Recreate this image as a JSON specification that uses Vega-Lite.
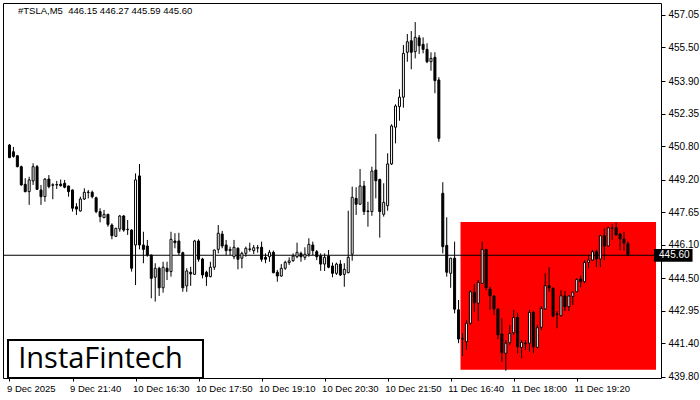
{
  "$schema": "https://vega.github.io/schema/vega-lite/v6.json",
  "width": 658,
  "height": 375,
  "autosize": "none",
  "padding": {"left": 3, "top": 3, "right": 39, "bottom": 22},
  "background": "white",
  "title": {"text": "#TSLA,M5\u00a0 446.15 446.27 445.59 445.60", "anchor": "start", "frame": "group", "offset": -20, "dx": 15, "fontSize": 9.5, "font": "Liberation Sans", "fontWeight": "normal", "color": "black", "baseline": "alphabetic"},
  "config": {
    "view": {"stroke": "black", "strokeWidth": 1},
    "axis": {"grid": false, "domain": false, "labelFont": "Liberation Sans", "labelColor": "black", "tickColor": "black", "labelOverlap": false, "labelFlush": false},
    "axisY": {"labelOverlap": false},
    "axisRight": {"labelOverlap": false}
  },
  "data": {"values": [
{"i":0,"o":450.85,"h":450.90,"l":450.23,"c":450.25},
{"i":1,"o":450.53,"h":450.76,"l":450.25,"c":450.31},
{"i":2,"o":450.34,"h":450.38,"l":449.79,"c":449.82},
{"i":3,"o":449.82,"h":449.87,"l":448.91,"c":448.95},
{"i":4,"o":448.98,"h":449.27,"l":448.60,"c":448.63},
{"i":5,"o":448.63,"h":449.34,"l":448.00,"c":449.19},
{"i":6,"o":449.14,"h":449.98,"l":448.95,"c":449.82},
{"i":7,"o":449.82,"h":449.90,"l":448.71,"c":448.74},
{"i":8,"o":448.71,"h":448.95,"l":448.00,"c":448.39},
{"i":9,"o":448.39,"h":449.27,"l":448.15,"c":449.23},
{"i":10,"o":449.23,"h":449.42,"l":448.79,"c":448.87},
{"i":11,"o":448.93,"h":449.03,"l":448.27,"c":448.96},
{"i":12,"o":448.95,"h":449.14,"l":448.76,"c":448.97},
{"i":13,"o":448.99,"h":449.21,"l":448.87,"c":448.91},
{"i":14,"o":449.03,"h":449.19,"l":448.79,"c":448.84},
{"i":15,"o":448.90,"h":448.92,"l":448.39,"c":448.63},
{"i":16,"o":448.71,"h":448.73,"l":447.68,"c":447.84},
{"i":17,"o":447.91,"h":448.08,"l":447.52,"c":447.80},
{"i":18,"o":447.71,"h":448.39,"l":447.68,"c":448.28},
{"i":19,"o":448.28,"h":448.79,"l":448.23,"c":448.60},
{"i":20,"o":448.59,"h":448.71,"l":448.31,"c":448.61},
{"i":21,"o":448.60,"h":448.68,"l":448.31,"c":448.39},
{"i":22,"o":448.34,"h":448.39,"l":447.60,"c":447.68},
{"i":23,"o":447.68,"h":447.84,"l":447.17,"c":447.44},
{"i":24,"o":447.39,"h":447.76,"l":447.37,"c":447.55},
{"i":25,"o":447.55,"h":447.57,"l":446.96,"c":447.07},
{"i":26,"o":447.04,"h":447.12,"l":446.36,"c":446.53},
{"i":27,"o":446.50,"h":446.91,"l":446.48,"c":446.88},
{"i":28,"o":446.85,"h":447.52,"l":446.72,"c":447.47},
{"i":29,"o":447.47,"h":447.52,"l":446.72,"c":446.80},
{"i":30,"o":446.82,"h":447.28,"l":446.57,"c":446.84},
{"i":31,"o":446.80,"h":446.84,"l":444.82,"c":444.98},
{"i":32,"o":446.09,"h":449.50,"l":444.18,"c":449.19},
{"i":33,"o":449.38,"h":449.95,"l":445.88,"c":446.09},
{"i":34,"o":446.09,"h":446.72,"l":445.22,"c":445.88},
{"i":35,"o":446.04,"h":446.33,"l":445.53,"c":445.61},
{"i":36,"o":445.61,"h":445.63,"l":443.55,"c":444.50},
{"i":37,"o":444.55,"h":445.22,"l":443.39,"c":444.98},
{"i":38,"o":444.98,"h":445.05,"l":443.66,"c":444.05},
{"i":39,"o":444.05,"h":445.29,"l":443.82,"c":445.03},
{"i":40,"o":444.98,"h":445.29,"l":444.42,"c":444.82},
{"i":41,"o":444.82,"h":446.72,"l":444.58,"c":446.36},
{"i":42,"o":446.28,"h":446.65,"l":445.93,"c":446.20},
{"i":43,"o":446.28,"h":446.67,"l":445.61,"c":445.72},
{"i":44,"o":445.72,"h":445.77,"l":443.86,"c":444.05},
{"i":45,"o":444.14,"h":444.98,"l":443.86,"c":444.85},
{"i":46,"o":444.79,"h":445.05,"l":444.14,"c":444.71},
{"i":47,"o":444.69,"h":446.33,"l":444.66,"c":446.28},
{"i":48,"o":446.28,"h":446.36,"l":445.29,"c":445.41},
{"i":49,"o":445.42,"h":445.48,"l":444.50,"c":444.66},
{"i":50,"o":444.79,"h":444.86,"l":444.14,"c":444.58},
{"i":51,"o":444.58,"h":445.29,"l":444.55,"c":445.03},
{"i":52,"o":445.03,"h":445.87,"l":444.90,"c":445.85},
{"i":53,"o":445.88,"h":447.04,"l":445.69,"c":446.65},
{"i":54,"o":446.61,"h":446.76,"l":445.93,"c":446.04},
{"i":55,"o":446.09,"h":446.33,"l":445.61,"c":445.82},
{"i":56,"o":445.82,"h":446.01,"l":445.61,"c":445.88},
{"i":57,"o":445.53,"h":446.33,"l":445.41,"c":445.98},
{"i":58,"o":445.93,"h":445.98,"l":444.93,"c":445.41},
{"i":59,"o":445.46,"h":445.77,"l":444.98,"c":445.69},
{"i":60,"o":445.69,"h":446.01,"l":445.53,"c":445.93},
{"i":61,"o":445.90,"h":446.20,"l":445.77,"c":445.88},
{"i":62,"o":445.82,"h":446.09,"l":445.66,"c":445.96},
{"i":63,"o":445.94,"h":446.09,"l":445.72,"c":445.96},
{"i":64,"o":445.98,"h":446.25,"l":445.29,"c":445.41},
{"i":65,"o":445.50,"h":445.69,"l":445.22,"c":445.41},
{"i":66,"o":445.53,"h":445.85,"l":445.29,"c":445.74},
{"i":67,"o":445.74,"h":445.82,"l":444.74,"c":444.77},
{"i":68,"o":444.79,"h":444.90,"l":444.34,"c":444.61},
{"i":69,"o":444.61,"h":445.18,"l":444.58,"c":444.98},
{"i":70,"o":444.98,"h":445.34,"l":444.90,"c":445.26},
{"i":71,"o":445.25,"h":445.50,"l":445.14,"c":445.33},
{"i":72,"o":445.34,"h":445.69,"l":445.29,"c":445.56},
{"i":73,"o":445.53,"h":446.20,"l":445.46,"c":445.74},
{"i":74,"o":445.69,"h":445.77,"l":445.29,"c":445.53},
{"i":75,"o":445.50,"h":445.98,"l":445.37,"c":445.65},
{"i":76,"o":445.65,"h":446.41,"l":445.53,"c":446.12},
{"i":77,"o":446.09,"h":446.25,"l":445.61,"c":445.82},
{"i":78,"o":445.77,"h":445.85,"l":445.37,"c":445.53},
{"i":79,"o":445.56,"h":445.69,"l":444.86,"c":445.18},
{"i":80,"o":445.18,"h":445.69,"l":444.85,"c":445.50},
{"i":81,"o":445.56,"h":445.85,"l":444.98,"c":445.03},
{"i":82,"o":445.09,"h":445.25,"l":444.55,"c":444.74},
{"i":83,"o":444.74,"h":445.25,"l":444.66,"c":445.18},
{"i":84,"o":445.18,"h":445.37,"l":444.61,"c":444.66},
{"i":85,"o":444.69,"h":445.22,"l":444.10,"c":444.93},
{"i":86,"o":444.77,"h":447.72,"l":444.74,"c":445.50},
{"i":87,"o":445.65,"h":448.87,"l":445.34,"c":448.36},
{"i":88,"o":448.31,"h":448.84,"l":447.52,"c":448.03},
{"i":89,"o":448.03,"h":449.71,"l":448.00,"c":448.90},
{"i":90,"o":448.90,"h":449.14,"l":447.52,"c":447.68},
{"i":91,"o":447.68,"h":448.15,"l":446.96,"c":447.71},
{"i":92,"o":447.68,"h":449.82,"l":447.48,"c":449.61},
{"i":93,"o":449.66,"h":451.38,"l":448.31,"c":449.15},
{"i":94,"o":449.21,"h":449.25,"l":446.44,"c":447.68},
{"i":95,"o":447.55,"h":449.03,"l":447.44,"c":448.12},
{"i":96,"o":447.96,"h":450.46,"l":447.72,"c":449.95},
{"i":97,"o":449.95,"h":451.84,"l":449.90,"c":451.76},
{"i":98,"o":451.70,"h":452.79,"l":450.93,"c":452.71},
{"i":99,"o":452.68,"h":453.51,"l":452.01,"c":453.13},
{"i":100,"o":453.13,"h":455.62,"l":452.63,"c":455.22},
{"i":101,"o":455.27,"h":456.14,"l":454.82,"c":455.77},
{"i":102,"o":455.82,"h":456.28,"l":454.46,"c":455.27},
{"i":103,"o":455.30,"h":456.71,"l":454.98,"c":455.98},
{"i":104,"o":455.96,"h":456.09,"l":455.19,"c":455.58},
{"i":105,"o":455.65,"h":455.98,"l":455.22,"c":455.41},
{"i":106,"o":455.41,"h":455.70,"l":454.75,"c":454.82},
{"i":107,"o":454.82,"h":455.27,"l":454.39,"c":454.98},
{"i":108,"o":455.03,"h":455.27,"l":453.32,"c":453.92},
{"i":109,"o":453.95,"h":454.08,"l":451.01,"c":451.17},
{"i":110,"o":448.55,"h":449.08,"l":445.69,"c":446.01},
{"i":111,"o":446.07,"h":447.41,"l":444.58,"c":444.79},
{"i":112,"o":444.74,"h":445.48,"l":444.05,"c":445.46},
{"i":113,"o":445.46,"h":446.25,"l":442.83,"c":443.03},
{"i":114,"o":443.00,"h":443.47,"l":441.41,"c":441.61},
{"i":115,"o":441.61,"h":441.88,"l":440.80,"c":441.64},
{"i":116,"o":441.48,"h":442.52,"l":441.09,"c":442.36},
{"i":117,"o":442.36,"h":443.94,"l":442.28,"c":443.86},
{"i":118,"o":443.84,"h":444.23,"l":442.91,"c":443.34},
{"i":119,"o":443.31,"h":444.42,"l":442.47,"c":444.31},
{"i":120,"o":444.26,"h":446.25,"l":444.23,"c":445.88},
{"i":121,"o":445.88,"h":445.90,"l":443.94,"c":444.05},
{"i":122,"o":443.99,"h":444.10,"l":443.00,"c":443.66},
{"i":123,"o":443.66,"h":443.71,"l":442.75,"c":443.04},
{"i":124,"o":443.04,"h":443.07,"l":441.60,"c":441.80},
{"i":125,"o":441.85,"h":442.60,"l":440.53,"c":440.96},
{"i":126,"o":440.93,"h":441.56,"l":440.10,"c":441.41},
{"i":127,"o":441.43,"h":442.28,"l":441.32,"c":441.88},
{"i":128,"o":441.91,"h":443.00,"l":441.80,"c":442.64},
{"i":129,"o":442.64,"h":442.86,"l":440.93,"c":441.24},
{"i":130,"o":441.21,"h":441.56,"l":440.69,"c":441.45},
{"i":131,"o":441.41,"h":441.56,"l":441.09,"c":441.38},
{"i":132,"o":441.41,"h":443.00,"l":441.01,"c":442.88},
{"i":133,"o":442.88,"h":442.94,"l":440.93,"c":441.24},
{"i":134,"o":441.21,"h":442.28,"l":441.17,"c":442.15},
{"i":135,"o":442.17,"h":443.18,"l":442.04,"c":443.07},
{"i":136,"o":443.04,"h":444.74,"l":443.00,"c":444.15},
{"i":137,"o":444.15,"h":445.03,"l":443.86,"c":444.05},
{"i":138,"o":444.03,"h":444.07,"l":442.64,"c":442.71},
{"i":139,"o":442.78,"h":442.94,"l":442.12,"c":442.81},
{"i":140,"o":442.72,"h":443.94,"l":442.67,"c":443.67},
{"i":141,"o":443.66,"h":443.90,"l":442.94,"c":443.15},
{"i":142,"o":443.15,"h":443.68,"l":442.94,"c":443.66},
{"i":143,"o":443.63,"h":443.86,"l":443.23,"c":443.84},
{"i":144,"o":443.86,"h":444.50,"l":443.84,"c":444.45},
{"i":145,"o":444.47,"h":444.63,"l":444.07,"c":444.34},
{"i":146,"o":444.34,"h":445.37,"l":444.26,"c":445.26},
{"i":147,"o":445.26,"h":445.61,"l":444.98,"c":445.37},
{"i":148,"o":445.37,"h":445.85,"l":445.34,"c":445.77},
{"i":149,"o":445.77,"h":445.88,"l":445.03,"c":445.42},
{"i":150,"o":445.42,"h":446.57,"l":445.03,"c":446.53},
{"i":151,"o":446.53,"h":446.88,"l":445.37,"c":446.04},
{"i":152,"o":446.04,"h":446.96,"l":446.01,"c":446.91},
{"i":153,"o":446.90,"h":447.07,"l":446.33,"c":446.88},
{"i":154,"o":446.91,"h":447.17,"l":446.52,"c":446.57},
{"i":155,"o":446.61,"h":446.67,"l":445.85,"c":446.37},
{"i":156,"o":446.37,"h":446.72,"l":445.82,"c":446.17},
{"i":157,"o":446.15,"h":446.27,"l":445.59,"c":445.60}
  ]},
  "layer": [
    {
      "data": {"values": [{}]},
      "mark": {"type": "rect", "fill": "#FF0000"},
      "encoding": {
        "x": {"datum": 114.5, "type": "quantitative", "scale": {"domain": [-0.375, 164.125], "nice": false, "zero": false}, "axis": {"orient": "bottom", "values": [0,16,32,48,64,80,96,112,128,144], "tickSize": 3, "labelAlign": "left", "labelBaseline": "top", "labelPadding": 2, "labelOffset": -3, "labelFontSize": 9.5, "labelOverlap": false, "labelFlush": false, "title": null, "labelExpr": "datum.value == 0 ? '9 Dec 2025' : datum.value == 16 ? '9 Dec 21:40' : datum.value == 32 ? '10 Dec 16:30' : datum.value == 48 ? '10 Dec 17:50' : datum.value == 64 ? '10 Dec 19:10' : datum.value == 80 ? '10 Dec 20:30' : datum.value == 96 ? '10 Dec 21:50' : datum.value == 112 ? '11 Dec 16:40' : datum.value == 128 ? '11 Dec 18:00' : '11 Dec 19:20'"}},
        "x2": {"datum": 164.125},
        "y": {"datum": 447.18, "type": "quantitative", "scale": {"domain": [439.752, 457.618], "nice": false, "zero": false}, "axis": {"orient": "right", "values": [457.05,455.5,453.9,452.35,450.8,449.2,447.65,446.1,444.5,442.95,441.4,439.8], "tickCount": 12, "format": ".2f", "tickSize": 4, "labelPadding": 3, "labelFontSize": 10, "labelOverlap": false, "labelFlush": false, "labelBound": false, "title": null}},
        "y2": {"datum": 440.15}
      }
    },
    {
      "data": {"values": [{}]},
      "mark": {"type": "rule", "color": "black", "strokeWidth": 1},
      "encoding": {"y": {"datum": 445.6, "type": "quantitative"}}
    },
    {
      "mark": {"type": "rule", "color": "black", "strokeWidth": 1},
      "encoding": {
        "x": {"field": "i", "type": "quantitative", "title": null},
        "y": {"field": "l", "type": "quantitative", "title": null},
        "y2": {"field": "h"}
      }
    },
    {
      "mark": {"type": "bar", "orient": "vertical", "width": 2, "stroke": "black", "strokeWidth": 1},
      "encoding": {
        "x": {"field": "i", "type": "quantitative", "title": null},
        "y": {"field": "o", "type": "quantitative", "title": null},
        "y2": {"field": "c"},
        "fill": {"condition": {"test": "datum.c < datum.o", "value": "black"}, "value": "white"}
      }
    },
    {
      "data": {"values": [{}]},
      "mark": {"type": "rect", "fill": "white", "stroke": "black", "strokeWidth": 2},
      "encoding": {
        "x": {"datum": -0.375, "type": "quantitative"},
        "x2": {"datum": 49.125},
        "y": {"datum": 441.56, "type": "quantitative"},
        "y2": {"datum": 439.752}
      }
    },
    {
      "data": {"values": [{}]},
      "mark": {"type": "text", "text": "InstaFintech", "font": "Open Sans", "fontSize": 29, "fontWeight": 500, "color": "black", "align": "center", "baseline": "middle"},
      "encoding": {
        "x": {"datum": 23.1, "type": "quantitative"},
        "y": {"datum": 440.66, "type": "quantitative"}
      }
    },
    {
      "data": {"values": [{}]},
      "mark": {"type": "rect", "fill": "black"},
      "encoding": {
        "x": {"datum": 163.6, "type": "quantitative"},
        "x2": {"datum": 173.4},
        "y": {"datum": 445.90, "type": "quantitative"},
        "y2": {"datum": 445.29}
      }
    },
    {
      "data": {"values": [{}]},
      "mark": {"type": "text", "text": "445.60", "font": "Liberation Sans", "fontSize": 10, "color": "white", "align": "left", "baseline": "middle"},
      "encoding": {
        "x": {"datum": 164.9, "type": "quantitative"},
        "y": {"datum": 445.6, "type": "quantitative"}
      }
    }
  ]
}
